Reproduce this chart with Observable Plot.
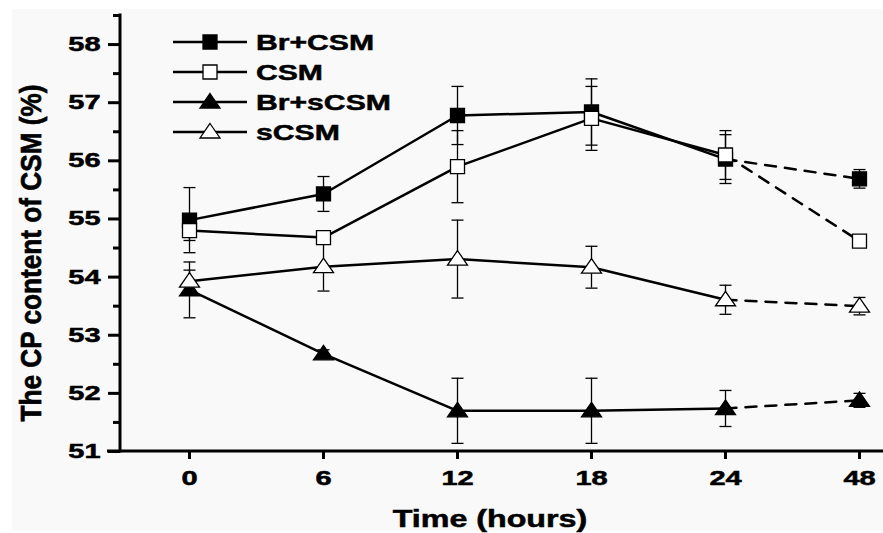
<!DOCTYPE html>
<html><head><meta charset="utf-8">
<script src="https://cdn.jsdelivr.net/npm/d3@7"></script>
<script src="https://cdn.jsdelivr.net/npm/@observablehq/plot@0.6"></script>
<style>
html,body{margin:0;padding:0;background:#fff;}
#chart{position:relative;width:883px;height:533px;}
#chart svg text{stroke:black;stroke-width:0.5px;}
</style></head><body><div id="chart"></div>
<script>
// ---- data ----
const times = ["0", "6", "12", "18", "24", "48"];
const seriesNames = ["Br+CSM", "CSM", "Br+sCSM", "sCSM"];
const brCSM      = [54.98, 55.43, 56.78, 56.84, 56.03, 55.69];
const brCSMErr   = [0.56, 0.30, 0.50, 0.57, 0.42, 0.16];
const csm        = [54.80, 54.68, 55.90, 56.73, 56.10, 54.62];
const csmErr     = [0.17, 0.10, 0.62, 0.55, 0.42, 0.05];
const brSCSM     = [53.78, 52.68, 51.70, 51.70, 51.74, 51.88];
const brSCSMErr  = [0.48, 0.07, 0.56, 0.56, 0.31, 0.12];
const sCSM       = [53.93, 54.18, 54.31, 54.17, 53.61, 53.50];
const sCSMErr    = [0.19, 0.42, 0.67, 0.36, 0.25, 0.15];
const yTicks = [51, 52, 53, 54, 55, 56, 57, 58];
const yMinorTicks = [51.5, 52.5, 53.5, 54.5, 55.5, 56.5, 57.5, 58.5];
const xLabel = "Time (hours)";
const yLabel = "The CP content of CSM (%)";

const seriesValues = [brCSM, csm, brSCSM, sCSM];
const seriesErrors = [brCSMErr, csmErr, brSCSMErr, sCSMErr];
const rows = seriesNames.flatMap((s, i) => times.map((t, j) => ({series: s, time: t, v: seriesValues[i][j], e: seriesErrors[i][j]})));

// ---- symbols ----
const symSquare = {draw(ctx, size) {const r = Math.sqrt(size / Math.PI); ctx.moveTo(-r, -r); ctx.lineTo(r, -r); ctx.lineTo(r, r); ctx.lineTo(-r, r); ctx.closePath();}};
const symTri = {draw(ctx, size) {const r = Math.sqrt(size / Math.PI); ctx.moveTo(0, -0.85 * r); ctx.lineTo(r, 0.6 * r); ctx.lineTo(-r, 0.6 * r); ctx.closePath();}};
const symCap = {draw(ctx, size) {const r = Math.sqrt(size / Math.PI); ctx.moveTo(-r, 0); ctx.lineTo(r, 0);}};
const styles = {
  "Br+CSM": {symbol: symSquare, fill: "black", r: 7},
  "CSM": {symbol: symSquare, fill: "white", r: 7},
  "Br+sCSM": {symbol: symTri, fill: "black", r: 10},
  "sCSM": {symbol: symTri, fill: "white", r: 10}
};

const W = 883, H = 533, ML = 120, MT = 15, MB = 82;
const font = "'Liberation Sans', Arial, sans-serif";

const markers = seriesNames.map(s => Plot.dot(rows.filter(d => d.series === s), {
  x: "time", y: "v", symbol: styles[s].symbol, r: styles[s].r,
  fill: styles[s].fill, stroke: "black", strokeWidth: 1.3
}));

const plot = Plot.plot({
  width: W, height: H,
  marginLeft: ML, marginRight: 0, marginTop: MT, marginBottom: MB,
  style: {fontFamily: font, color: "black", background: "transparent", overflow: "visible"},
  x: {type: "point", domain: times, range: [187, 861], padding: 0, label: null},
  y: {domain: [51, 58.5], label: null},
  marks: [
    Plot.axisY({ticks: yMinorTicks, tickSize: 7, strokeWidth: 3, tickFormat: () => "", label: null}),
    Plot.axisY({ticks: yTicks, tickSize: 12, tickPadding: 8, strokeWidth: 3, fontSize: 20, fontWeight: "bold", label: null}),
    Plot.axisX({tickSize: 8, tickPadding: 11, strokeWidth: 3, fontSize: 20, fontWeight: "bold", label: null}),
    Plot.line(rows.filter(d => d.time !== "48"), {x: "time", y: "v", z: "series", stroke: "black", strokeWidth: 2.5}),
    Plot.line(rows.filter(d => d.time === "24" || d.time === "48"), {x: "time", y: "v", z: "series", stroke: "black", strokeWidth: 2.5, strokeDasharray: "11,9"}),
    Plot.ruleX(rows, {x: "time", y1: d => d.v - d.e, y2: d => d.v + d.e, stroke: "black", strokeWidth: 1.3}),
    Plot.dot(rows, {x: "time", y: d => d.v + d.e, symbol: symCap, r: 6, stroke: "black", fill: "none", strokeWidth: 1.3}),
    Plot.dot(rows, {x: "time", y: d => d.v - d.e, symbol: symCap, r: 6, stroke: "black", fill: "none", strokeWidth: 1.3}),
    ...markers
  ]
});

document.getElementById("chart").appendChild(plot);
const svg = d3.select(plot);
const y = plot.scale("y");

// background panel
svg.insert("rect", ":first-child").attr("x", 12).attr("y", 9).attr("width", W - 12).attr("height", H - 11).attr("fill", "#f8f9f8");

// axis lines
svg.append("line").attr("x1", ML).attr("x2", ML).attr("y1", y.apply(58.5)).attr("y2", y.apply(51))
  .attr("stroke", "black").attr("stroke-width", 3).attr("stroke-linecap", "square");
svg.append("line").attr("x1", ML - 13).attr("x2", W).attr("y1", y.apply(51)).attr("y2", y.apply(51))
  .attr("stroke", "black").attr("stroke-width", 3);

// axis titles
svg.append("text").attr("x", 490).attr("y", 527).attr("text-anchor", "middle")
  .attr("font-family", font).attr("font-weight", "bold").attr("font-size", 23).attr("class", "stretch-x").text(xLabel);
svg.append("text").attr("transform", "translate(31,253) rotate(-90) scale(1,1.35)")
  .attr("text-anchor", "middle").attr("dominant-baseline", "central")
  .attr("font-family", font).attr("font-weight", "bold").attr("font-size", 22).attr("class", "ylab").text(yLabel);

// legend
const leg = svg.append("g").attr("class", "legend");
seriesNames.forEach((s, i) => {
  const cy = 42 + i * 30;
  const g = leg.append("g").attr("transform", `translate(0,${cy})`);
  g.append("line").attr("x1", 173).attr("x2", 247).attr("stroke", "black").attr("stroke-width", 2.5);
  const p = d3.path();
  const st = styles[s];
  st.symbol.draw(p, st.r * st.r * Math.PI);
  g.append("path").attr("transform", "translate(210,0)").attr("d", p.toString())
    .attr("fill", st.fill).attr("stroke", "black").attr("stroke-width", 1.3);
  g.append("text").attr("x", 256).attr("dy", "0.36em").attr("text-anchor", "start").attr("font-family", font)
    .attr("font-weight", "bold").attr("font-size", 22).attr("class", "stretch-leg").text(s);
});

// horizontal stretch of texts to match the reference's wide lettering
function stretch(sel, ratio) {
  plot.querySelectorAll(sel).forEach(t => {
    const len = t.getComputedTextLength();
    if (len > 0) { t.setAttribute("textLength", len * ratio); t.setAttribute("lengthAdjust", "spacingAndGlyphs"); }
  });
}
stretch('g[aria-label="y-axis tick label"] text', 1.45);
stretch('g[aria-label="x-axis tick label"] text', 1.45);
stretch('text.stretch-leg', 1.37);
stretch('text.stretch-x', 1.4);
const yl = plot.querySelector("text.ylab");
yl.setAttribute("textLength", 337 ); yl.setAttribute("lengthAdjust", "spacingAndGlyphs");
</script>
</body></html>
